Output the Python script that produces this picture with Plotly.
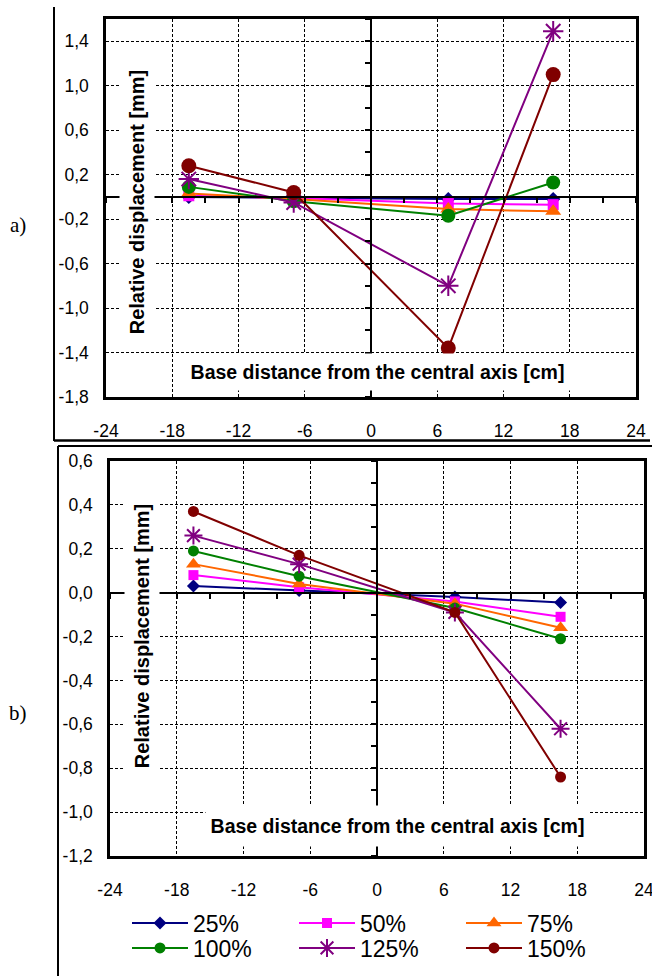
import plotly.graph_objects as go

W, H = 652, 976

# ---------------- data ----------------
series_names = ["25%", "50%", "75%", "100%", "125%", "150%"]
series_colors = ["#000080", "#FF00FF", "#FF6600", "#008000", "#800080", "#800000"]
series_symbols = ["diamond", "square", "triangle-up", "circle", "asterisk-open", "circle"]

x_positions = [-16.5, -7.0, 7.0, 16.5]

# chart a)
a_25 = [0.00, -0.01, -0.02, -0.02]
a_50 = [0.01, -0.01, -0.06, -0.07]
a_75 = [0.03, -0.02, -0.11, -0.13]
a_100 = [0.09, -0.04, -0.17, 0.13]
a_125 = [0.16, -0.05, -0.80, 1.49]
a_150 = [0.28, 0.04, -1.36, 1.10]

# chart b)
b_25 = [0.03, 0.01, -0.02, -0.045]
b_50 = [0.08, 0.025, -0.04, -0.11]
b_75 = [0.13, 0.04, -0.05, -0.16]
b_100 = [0.19, 0.075, -0.07, -0.21]
b_125 = [0.26, 0.13, -0.09, -0.62]
b_150 = [0.37, 0.17, -0.09, -0.84]

x_tickvals = [-24, -18, -12, -6, 0, 6, 12, 18, 24]
x_ticktext = ["-24", "-18", "-12", "-6", "0", "6", "12", "18", "24"]

a_y_tickvals = [-1.8, -1.4, -1.0, -0.6, -0.2, 0.2, 0.6, 1.0, 1.4]
a_y_ticktext = ["-1,8", "-1,4", "-1,0", "-0,6", "-0,2", "0,2", "0,6", "1,0", "1,4"]
b_y_tickvals = [-1.2, -1.0, -0.8, -0.6, -0.4, -0.2, 0.0, 0.2, 0.4, 0.6]
b_y_ticktext = ["-1,2", "-1,0", "-0,8", "-0,6", "-0,4", "-0,2", "0,0", "0,2", "0,4", "0,6"]

a_xrange = [-24, 24]
a_yrange = [-1.8, 1.6]
b_xrange = [-24, 24]
b_yrange = [-1.2, 0.6]

x_title = "Base distance from the central axis [cm]"
y_title = "Relative displacement [mm]"

# ---------------- helpers ----------------
def px(p):
    return p / W

def py(p):
    return 1 - p / H

FONT = "Arial, Liberation Sans, sans-serif"

a_xdom = [px(106), px(636)]
a_ydom = [py(397), py(19)]
b_xdom = [px(110), px(644)]
b_ydom = [py(856), py(461)]

def frac(v, rng):
    return (v - rng[0]) / (rng[1] - rng[0])

def dom_at(dom, f):
    return dom[0] + f * (dom[1] - dom[0])

fig = go.Figure()

a_sets = [a_25, a_50, a_75, a_100, a_125, a_150]
b_sets = [b_25, b_50, b_75, b_100, b_125, b_150]
a_sizes = [11, 11, 14, 14, 17, 15]
b_sizes = [10, 10, 13, 11, 15, 11]

for i, name in enumerate(series_names):
    fig.add_trace(go.Scatter(
        x=x_positions, y=a_sets[i], mode="lines+markers", name=name,
        line=dict(color=series_colors[i], width=2),
        marker=dict(symbol=series_symbols[i], size=a_sizes[i], color=series_colors[i],
                    line=dict(width=2 if series_symbols[i] == "asterisk-open" else 0,
                              color=series_colors[i])),
        xaxis="x", yaxis="y", showlegend=False, hoverinfo="skip"))

for i, name in enumerate(series_names):
    fig.add_trace(go.Scatter(
        x=x_positions, y=b_sets[i], mode="lines+markers", name=name,
        line=dict(color=series_colors[i], width=2),
        marker=dict(symbol=series_symbols[i], size=b_sizes[i], color=series_colors[i],
                    line=dict(width=2 if series_symbols[i] == "asterisk-open" else 0,
                              color=series_colors[i])),
        xaxis="x2", yaxis="y2", showlegend=True, hoverinfo="skip",
        legend="legend" if i < 3 else "legend2"))

# empty traces to realise the zero-line overlay axes
fig.add_trace(go.Scatter(x=[], y=[], xaxis="x3", yaxis="y3", showlegend=False, hoverinfo="skip"))
fig.add_trace(go.Scatter(x=[], y=[], xaxis="x4", yaxis="y4", showlegend=False, hoverinfo="skip"))

grid = dict(showgrid=True, gridcolor="black", gridwidth=1, griddash="3px,2px",
            showline=True, linecolor="black", linewidth=2.5, mirror=True,
            zeroline=False, ticks="", tickfont=dict(family=FONT, size=17.5, color="black"),
            tickmode="array", automargin=False, ticklabeloverflow="allow")

zero_common = dict(showline=True, linecolor="black", linewidth=2, ticks="outside",
                   ticklen=5, tickwidth=1.5, tickcolor="black", tickmode="linear",
                   tick0=0, showticklabels=False, showgrid=False, zeroline=False,
                   automargin=False, anchor="free")

legend_common = dict(orientation="h", xanchor="left", yanchor="middle",
                     font=dict(family=FONT, size=23, color="black"),
                     itemwidth=56, entrywidth=96, entrywidthmode="pixels",
                     bgcolor="rgba(0,0,0,0)", tracegroupgap=0)

fig.update_layout(
    width=W, height=H, margin=dict(l=0, r=0, t=0, b=0, autoexpand=False),
    paper_bgcolor="white", plot_bgcolor="white",
    xaxis=dict(domain=a_xdom, range=a_xrange, anchor="y",
               tickvals=x_tickvals, ticktext=x_ticktext, ticklabelstandoff=16, **grid),
    yaxis=dict(domain=a_ydom, range=a_yrange, anchor="x",
               tickvals=a_y_tickvals, ticktext=a_y_ticktext, ticklabelstandoff=11, **grid),
    xaxis2=dict(domain=b_xdom, range=b_xrange, anchor="y2",
                tickvals=x_tickvals, ticktext=x_ticktext, ticklabelstandoff=16, **grid),
    yaxis2=dict(domain=b_ydom, range=b_yrange, anchor="x2",
                tickvals=b_y_tickvals, ticktext=b_y_ticktext, ticklabelstandoff=11, **grid),
    # zero-line axes with minor ticks
    xaxis3=dict(overlaying="x", range=a_xrange, domain=a_xdom,
                position=dom_at(a_ydom, frac(0, a_yrange)), side="bottom",
                dtick=3, **zero_common),
    yaxis3=dict(overlaying="y", range=a_yrange, domain=a_ydom,
                position=dom_at(a_xdom, frac(0, a_xrange)), side="left",
                dtick=0.2, **zero_common),
    xaxis4=dict(overlaying="x2", range=b_xrange, domain=b_xdom,
                position=dom_at(b_ydom, frac(0, b_yrange)), side="bottom",
                dtick=3, **zero_common),
    yaxis4=dict(overlaying="y2", range=b_yrange, domain=b_ydom,
                position=dom_at(b_xdom, frac(0, b_xrange)), side="left",
                dtick=0.1, **zero_common),
    legend=dict(x=px(127), y=py(923), **legend_common),
    legend2=dict(x=px(127), y=py(948), **legend_common),
)

annos = [
    dict(text="<b>" + y_title + "</b>", x=px(137), y=py(202), textangle=-90,
         width=274, height=34, bgcolor="white", size=20),
    dict(text="<b>" + x_title + "</b>", x=px(377), y=py(372),
         width=385, height=36, bgcolor="white", size=19.5),
    dict(text="<b>" + y_title + "</b>", x=px(142), y=py(636), textangle=-90,
         width=266, height=34, bgcolor="white", size=20),
    dict(text="<b>" + x_title + "</b>", x=px(397), y=py(826),
         width=383, height=40, bgcolor="white", size=19.5),
]
for a in annos:
    sz = a.pop("size")
    fig.add_annotation(xref="paper", yref="paper", showarrow=False,
                       xanchor="center", yanchor="middle",
                       font=dict(family=FONT, size=sz, color="black"),
                       borderpad=0, **a)

for lbl, yc in [("a)", 225), ("b)", 713)]:
    fig.add_annotation(text=lbl, xref="paper", yref="paper", x=px(18), y=py(yc),
                       showarrow=False, xanchor="center", yanchor="middle",
                       font=dict(family="Times New Roman, Liberation Serif, serif",
                                 size=21, color="black"))

frame_lines = [
    (54, 7, 54, 441, 2),
    (54, 440.5, 650, 440.5, 2.5),
    (58, 446, 652, 446, 2),
    (58, 446, 58, 976, 2),
]
for x0, y0, x1, y1, w in frame_lines:
    fig.add_shape(type="line", xref="paper", yref="paper",
                  x0=px(x0), y0=py(y0), x1=px(x1), y1=py(y1),
                  line=dict(color="black", width=w))

fig.write_html("out.html")
